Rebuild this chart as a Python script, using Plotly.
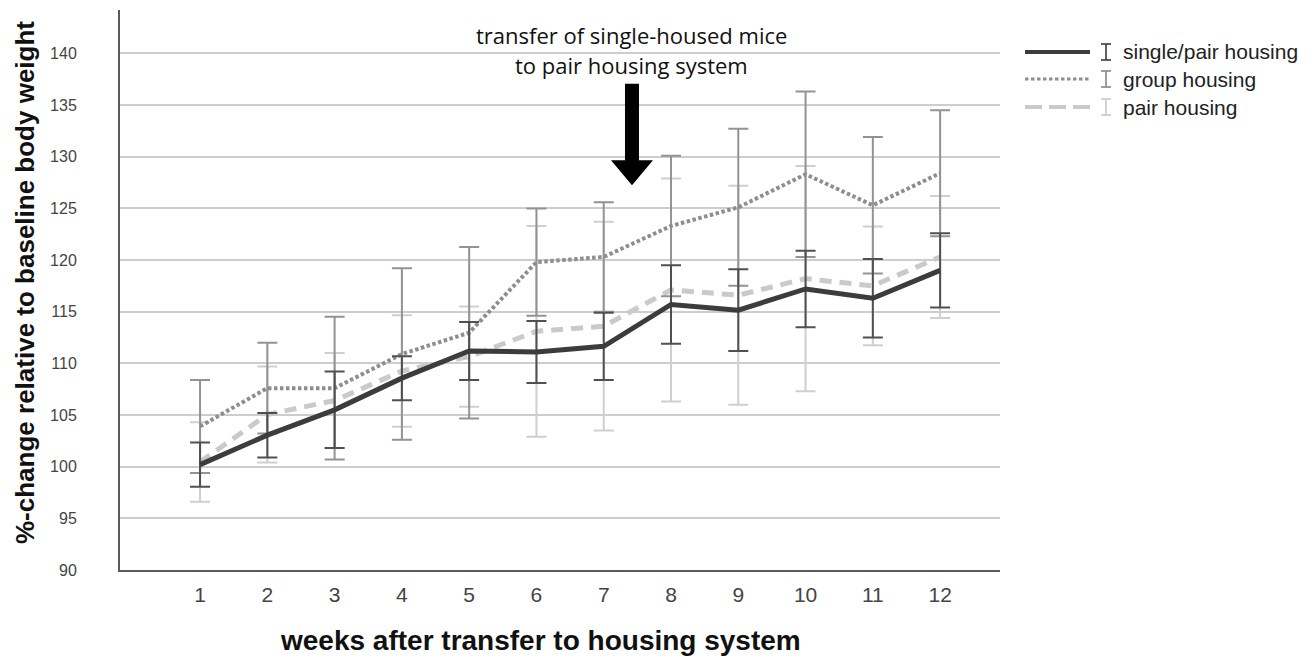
import plotly.graph_objects as go

weeks = [1, 2, 3, 4, 5, 6, 7, 8, 9, 10, 11, 12]
series_names = ["single/pair housing", "group housing", "pair housing"]

single_mean = [100.2, 103.05, 105.5, 108.57, 111.2, 111.1, 111.65, 115.7, 115.15, 117.2, 116.3, 119.0]
single_err = [2.15, 2.15, 3.7, 2.13, 2.8, 3.0, 3.25, 3.8, 3.95, 3.7, 3.8, 3.6]

group_mean = [103.9, 107.6, 107.6, 110.9, 112.97, 119.8, 120.3, 123.3, 125.1, 128.3, 125.3, 128.4]
group_err = [4.5, 4.4, 6.9, 8.3, 8.3, 5.2, 5.3, 6.8, 7.6, 8.0, 6.6, 6.1]

pair_mean = [100.45, 105.05, 106.4, 109.26, 110.65, 113.1, 113.6, 117.1, 116.6, 118.2, 117.5, 120.3]
pair_err = [3.85, 4.65, 4.6, 5.4, 4.85, 10.2, 10.1, 10.8, 10.6, 10.9, 5.75, 5.9]

y_ticks = [90, 95, 100, 105, 110, 115, 120, 125, 130, 135, 140]

annot_line1 = "transfer of single-housed mice"
annot_line2 = "to pair housing system"
x_title = "weeks after transfer to housing system"
y_title = "%-change relative to baseline body weight"

# styles
LINE_COLORS = ["#3c3c3c", "#8e8e8e", "#cacaca"]
ERR_COLORS = ["#505050", "#939393", "#cfcfcf"]
DASHES = ["solid", "3.5px,2.5px", "12px,8px"]
WIDTHS = [5, 4, 5]

W, H = 1314, 659
OFF = 8  # page body margin of the browser
L, R, T, B = 120 - OFF, 1000 - OFF, 10 - OFF, 570 - OFF  # plot area in figure px


def px2x(px):
    return (px - OFF - L) / (R - L)


def px2y(py):
    return (B - (py - OFF)) / (B - T)


fig = go.Figure()

data = [(single_mean, single_err), (group_mean, group_err), (pair_mean, pair_err)]
for idx in [2, 1, 0]:
    m, e = data[idx]
    fig.add_trace(go.Scatter(
        x=weeks, y=m, mode="lines", name=series_names[idx],
        line=dict(color=LINE_COLORS[idx], width=WIDTHS[idx], dash=DASHES[idx]),
        error_y=dict(type="data", array=e, visible=True, color=ERR_COLORS[idx],
                     thickness=2, width=10),
        showlegend=False,
    ))

# arrow (annotation graphic) in data coords
ax_c = 7.42
shaft_hw, head_hw = 0.104, 0.312
y_top, y_neck, y_tip = 137.07, 129.65, 127.23
path = (f"M {ax_c - shaft_hw} {y_top} L {ax_c + shaft_hw} {y_top} L {ax_c + shaft_hw} {y_neck} "
        f"L {ax_c + head_hw} {y_neck} L {ax_c} {y_tip} L {ax_c - head_hw} {y_neck} "
        f"L {ax_c - shaft_hw} {y_neck} Z")
shapes = [dict(type="path", path=path, xref="x", yref="y", fillcolor="black",
               line=dict(color="black", width=0))]

annotations = [
    dict(text=annot_line1, x=px2x(631), y=px2y(35), xref="paper", yref="paper",
         showarrow=False, font=dict(family="Open Sans", size=22, color="#111"),
         xanchor="center", yanchor="middle"),
    dict(text=annot_line2, x=px2x(631), y=px2y(65), xref="paper", yref="paper",
         showarrow=False, font=dict(family="Open Sans", size=22, color="#111"),
         xanchor="center", yanchor="middle"),
    dict(text="<b>" + x_title + "</b>", x=px2x(540), y=px2y(640), xref="paper", yref="paper",
         showarrow=False, font=dict(family="Liberation Sans", size=28, color="#111"),
         xanchor="center", yanchor="middle"),
    dict(text="<b>" + y_title + "</b>", x=px2x(25), y=px2y(283), xref="paper", yref="paper",
         showarrow=False, textangle=-90, font=dict(family="Liberation Sans", size=26, color="#111"),
         xanchor="center", yanchor="middle"),
]

# custom legend
leg_rows = [52, 79, 107]
for i, name in enumerate(series_names):
    yy = px2y(leg_rows[i])
    shapes.append(dict(type="line", xref="paper", yref="paper",
                       x0=px2x(1025), x1=px2x(1090), y0=yy, y1=yy,
                       line=dict(color=LINE_COLORS[i], width=WIDTHS[i] - 1,
                                 dash=DASHES[i] if i != 2 else "17px,7px")))
    # error-bar glyph
    gx = 1106
    for seg in [(gx, leg_rows[i] - 8, gx, leg_rows[i] + 8),
                (gx - 5, leg_rows[i] - 8, gx + 5, leg_rows[i] - 8),
                (gx - 5, leg_rows[i] + 8, gx + 5, leg_rows[i] + 8)]:
        shapes.append(dict(type="line", xref="paper", yref="paper",
                           x0=px2x(seg[0]), x1=px2x(seg[2]), y0=px2y(seg[1]), y1=px2y(seg[3]),
                           line=dict(color=ERR_COLORS[i], width=1.8)))
    annotations.append(dict(text=name, x=px2x(1121), y=yy, xref="paper", yref="paper",
                            showarrow=False, xanchor="left", yanchor="middle",
                            font=dict(family="Liberation Sans", size=21, color="#222")))

fig.update_layout(
    width=W, height=H,
    margin=dict(l=L, r=W - R, t=T, b=H - B, autoexpand=False),
    paper_bgcolor="white", plot_bgcolor="white",
    shapes=shapes, annotations=annotations,
    showlegend=False,
    xaxis=dict(range=[-0.19, 12.89], tickvals=weeks, ticktext=[str(w) for w in weeks],
               showgrid=False, zeroline=False, showline=True, linecolor="#5a5a5a", linewidth=2,
               ticks="", tickfont=dict(family="Liberation Sans", size=21, color="#444"),
               ticklabelstandoff=5),
    yaxis=dict(range=[90, 144.2], tickvals=y_ticks, ticktext=[str(v) for v in y_ticks],
               showgrid=True, gridcolor="#cdcdcd", gridwidth=2, zeroline=False,
               showline=True, linecolor="#5a5a5a", linewidth=2, ticks="",
               tickfont=dict(family="Liberation Sans", size=16, color="#444"),
               ticklabelstandoff=38),
)

fig.write_html("out.html")
